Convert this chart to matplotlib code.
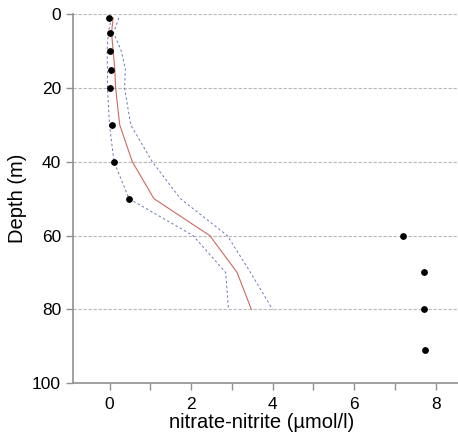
import numpy as np
import matplotlib.pyplot as plt

plt.rcParams['font.family'] = ['Liberation Sans', 'DejaVu Sans']

# observed profile
obs_depth = [1, 5, 10, 15, 20, 30, 40, 50, 60, 70, 80, 91]
obs_conc = [-0.02, 0.02, 0.02, 0.03, 0.02, 0.05, 0.11, 0.48, 7.19, 7.71, 7.71, 7.75]

# model mean and bounds
mod_depth = [1, 5, 10, 15, 20, 30, 40, 50, 60, 70, 80]
mod_mean = [0.09, 0.05, 0.09, 0.13, 0.15, 0.25, 0.56, 1.09, 2.46, 3.13, 3.48]
mod_upper = [0.23, 0.1, 0.29, 0.39, 0.37, 0.52, 1.05, 1.74, 2.89, 3.46, 4.0]
mod_lower = [0.05, -0.03, -0.06, -0.05, -0.05, 0.0, 0.11, 0.48, 2.05, 2.85, 2.92]

fig = plt.figure(figsize=(4.58, 4.43), dpi=100)
ax = fig.add_axes([0.159, 0.135, 0.841, 0.833])

for d in [0, 20, 40, 60, 80]:
    ax.axhline(d, color='#b8b8b8', lw=0.8, ls=(0, (3, 1.5)), zorder=0)

ax.plot(mod_upper, mod_depth, color='#6a78bc', lw=0.7, ls=(0, (2.5, 2.5)))
ax.plot(mod_lower, mod_depth, color='#6a78bc', lw=0.7, ls=(0, (2.5, 2.5)))
ax.plot(mod_mean, mod_depth, color='#cc6a60', lw=0.8)
ax.scatter(obs_conc, obs_depth, s=15, color='black', zorder=3)

ax.set_xlim(-0.9, 8.55)
ax.set_ylim(100, 0)
ax.set_xticks([0, 2, 4, 6, 8])
ax.set_xticks([1, 3, 5, 7], minor=True)
ax.set_yticks([0, 20, 40, 60, 80, 100])

for s in ['top', 'right']:
    ax.spines[s].set_visible(False)
for s in ['left', 'bottom']:
    ax.spines[s].set_color('#909090')
    ax.spines[s].set_linewidth(1.2)
ax.tick_params(which='both', color='#909090', length=5, width=1, labelsize=12.5)
ax.tick_params(axis='x', pad=5)

ax.set_xlabel('nitrate-nitrite (µmol/l)', fontsize=14.5)
ax.xaxis.set_label_coords(0.49, -0.08)
ax.set_ylabel('Depth (m)', fontsize=14.5)
ax.yaxis.set_label_coords(-0.12, 0.5)

fig.savefig('out.png', dpi=100)
